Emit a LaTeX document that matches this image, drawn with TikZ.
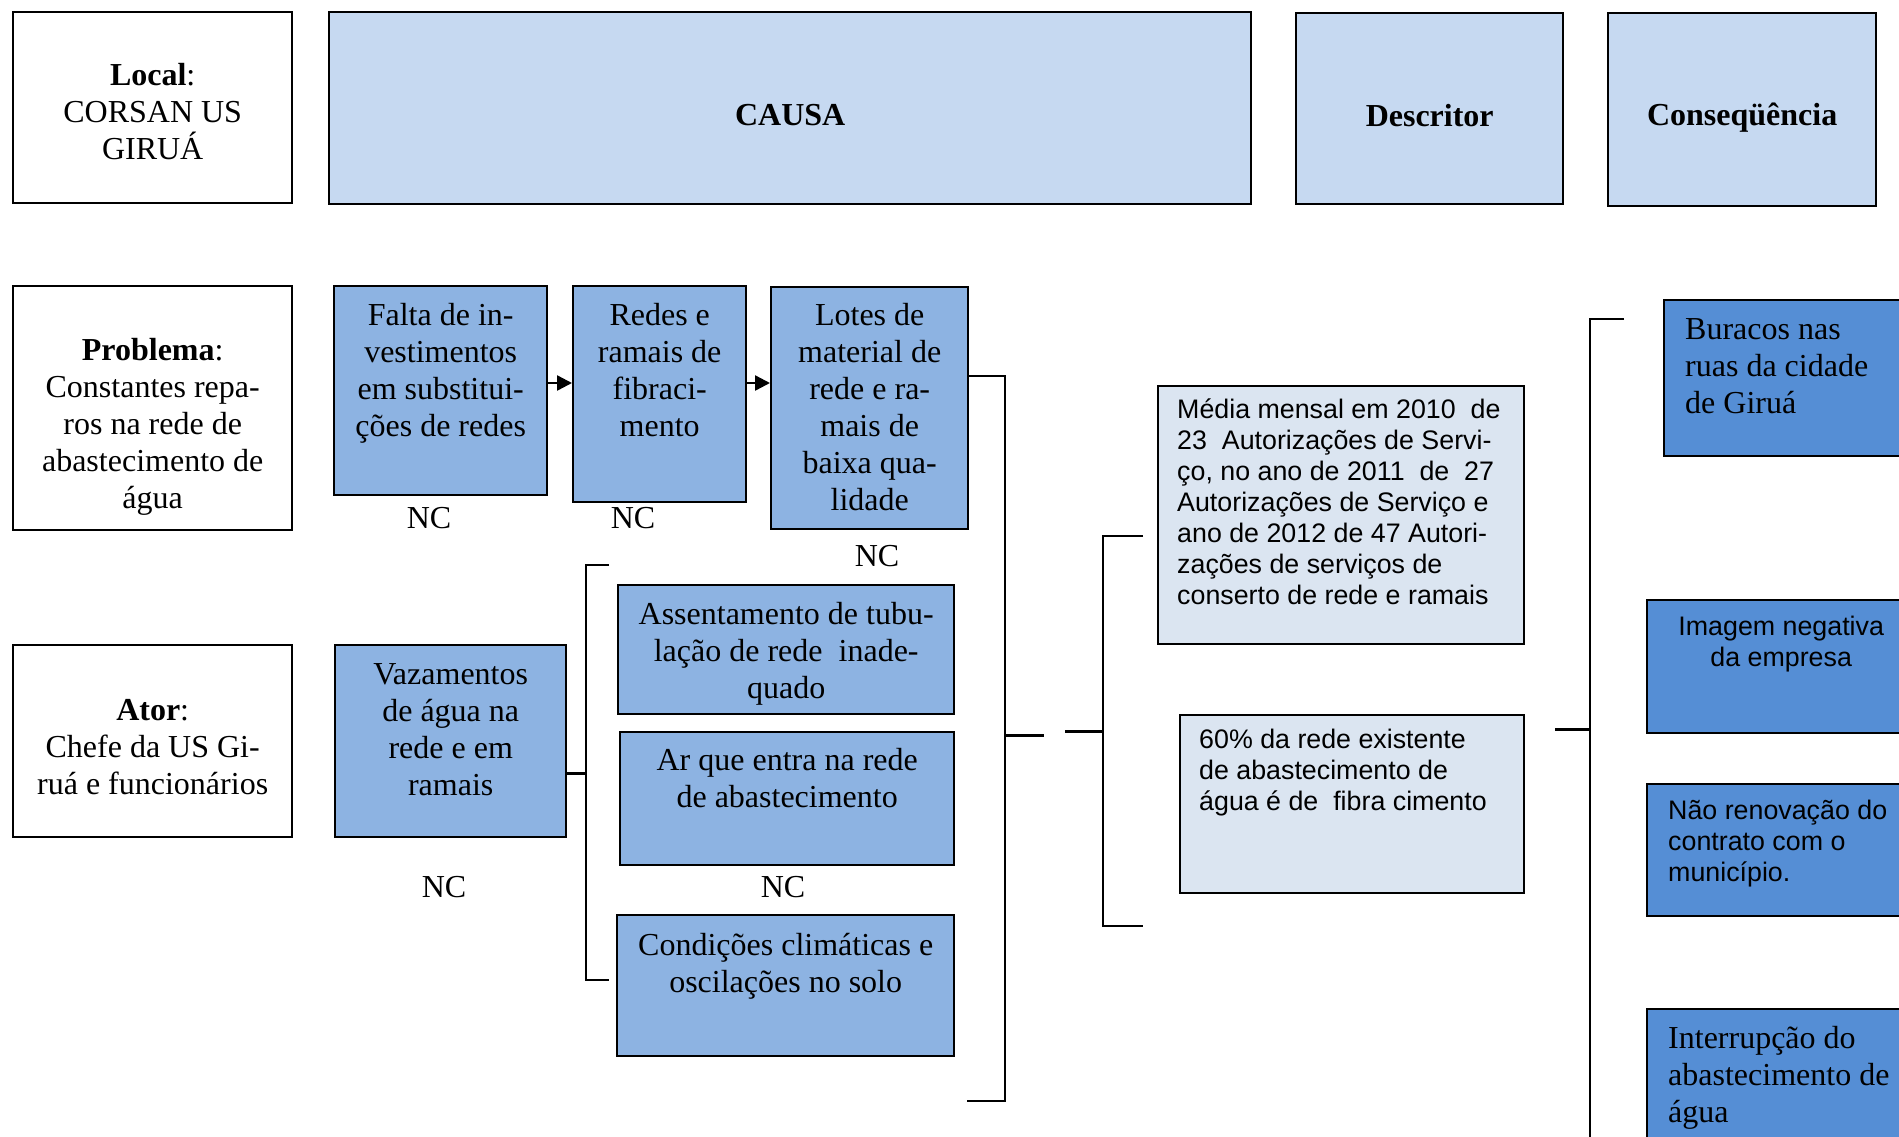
\documentclass[tikz,border=0pt]{standalone}
\usepackage{fontspec}
\setmainfont{Liberation Serif}
\setsansfont{Liberation Sans}
\usetikzlibrary{arrows.meta,positioning}
\definecolor{headblue}{HTML}{C6D9F1}
\definecolor{causeblue}{HTML}{8DB3E2}
\definecolor{descblue}{HTML}{DBE5F1}
\definecolor{consblue}{HTML}{558ED5}
\tikzset{
  box/.style={
    rectangle,
    draw=black,
    line width=2.4pt,
    inner sep=0pt,
    anchor=north west
  },
  plainbox/.style={box, fill=white},
  headbox/.style={box, fill=headblue},
  causebox/.style={box, fill=causeblue},
  descbox/.style={box, fill=descblue},
  consbox/.style={box, fill=consblue},
  txt/.style={
    inner sep=0pt,
    align=center,
    font=\fontsize{32}{37}\selectfont
  },
  sanstxt/.style={
    inner sep=0pt,
    align=left,
    font=\sffamily\fontsize{26.8}{31}\selectfont
  },
  bracket/.style={line width=2.2pt},
  stub/.style={line width=3pt},
  arrow/.style={
    -{Triangle[length=15pt,width=15pt]},
    line width=2.4pt
  }
}

\begin{document}
\begin{tikzpicture}[x=1pt, y=-1pt]
\path[use as bounding box] (0,0) rectangle (1899,1136);
\clip (0,0) rectangle (1899,1136);

% cabecalho
\node[plainbox, minimum width=279pt, minimum height=191pt] (local) at (12,11) {};
\node[headbox, minimum width=922pt, minimum height=192pt] (causa) at (328,11) {};
\node[headbox, minimum width=267pt, minimum height=191pt] (descr) at (1295,12) {};
\node[headbox, minimum width=268pt, minimum height=193pt] (conseq) at (1607,12) {};
\node[txt, below=52pt of local.north] (localT) {\textbf{Local}:\\CORSAN US\\GIRUÁ};
\node[txt, below=93pt of causa.north] (causaT) {\textbf{CAUSA}};
\node[txt, below=92pt of descr.north] (descrT) {\textbf{Descritor}};
\node[txt, below=91pt of conseq.north] (conseqT) {\textbf{Conseqüência}};

% problema e causas
\node[plainbox, minimum width=279pt, minimum height=244pt] (problema) at (12,285) {};
\node[causebox, minimum width=213pt, minimum height=209pt] (falta) at (333,285) {};
\node[causebox, minimum width=173pt, minimum height=216pt] (redes) at (572,285) {};
\node[causebox, minimum width=197pt, minimum height=242pt] (lotes) at (770,286) {};
\node[txt, below=53pt of problema.north] (problemaT) {\textbf{Problema}:\\Constantes repa-\\ros na rede de\\abastecimento de\\água};
\node[txt, below=18pt of falta.north] (faltaT) {Falta de in-\\vestimentos\\em substitui-\\ções de redes};
\node[txt, below=18pt of redes.north] (redesT) {Redes e\\ramais de\\fibraci-\\mento};
\node[txt, below=17pt of lotes.north] (lotesT) {Lotes de\\material de\\rede e ra-\\mais de\\baixa qua-\\lidade};

\node[plainbox, minimum width=279pt, minimum height=192pt] (ator) at (12,644) {};
\node[causebox, minimum width=231pt, minimum height=192pt] (vaz) at (334,644) {};
\node[causebox, minimum width=336pt, minimum height=129pt] (assent) at (617,584) {};
\node[causebox, minimum width=334pt, minimum height=133pt] (ar) at (619,731) {};
\node[causebox, minimum width=337pt, minimum height=141pt] (cond) at (616,914) {};
\node[txt, below=55pt of ator.north] (atorT) {\textbf{Ator}:\\Chefe da US Gi-\\ruá e funcionários};
\node[txt, below=19pt of vaz.north] (vazT) {Vazamentos\\de água na\\rede e em\\ramais};
\node[txt, below=18pt of assent.north] (assentT) {Assentamento de tubu-\\lação de rede~~inade-\\quado};
\node[txt, below=17pt of ar.north] (arT) {Ar que entra na rede\\de abastecimento};
\node[txt, below=19pt of cond.north] (condT) {Condições climáticas e\\oscilações no solo};

\node[txt, anchor=base] (nc1) at (429,528) {NC};
\node[txt, anchor=base] (nc2) at (633,528) {NC};
\node[txt, anchor=base] (nc3) at (877,566) {NC};
\node[txt, anchor=base] (nc4) at (444,897) {NC};
\node[txt, anchor=base] (nc5) at (783,897) {NC};

% descritor
\node[descbox, minimum width=366pt, minimum height=258pt] (media) at (1157,385) {};
\node[descbox, minimum width=344pt, minimum height=178pt] (fibra) at (1179,714) {};
\node[sanstxt, below right=14pt and 20pt of media.north west] (mediaT) {Média mensal em 2010~~de\\23~~Autorizações de Servi-\\ço, no ano de 2011~~de~~27\\Autorizações de Serviço e\\ano de 2012 de 47 Autori-\\zações de serviços de\\conserto de rede e ramais};
\node[sanstxt, below right=15pt and 20pt of fibra.north west] (fibraT) {60\% da rede existente\\de abastecimento de\\água é de~~fibra cimento};

% consequencias
\node[consbox, minimum width=268pt, minimum height=156pt] (burac) at (1663,299) {};
\node[consbox, minimum width=268pt, minimum height=133pt] (imagem) at (1646,599) {};
\node[consbox, minimum width=268pt, minimum height=132pt] (renov) at (1646,783) {};
\node[consbox, minimum width=268pt, minimum height=160pt] (interr) at (1646,1008) {};
\node[txt, align=left, below right=19pt and 22pt of burac.north west] (buracT) {Buracos nas\\ruas da cidade\\de Giruá};
\node[sanstxt, align=center, below=17pt of imagem.north] (imagemT) {Imagem negativa\\da empresa};
\node[sanstxt, below right=16.5pt and 22pt of renov.north west] (renovT) {Não renovação do\\contrato com o\\município.};
\node[txt, align=left, below right=18pt and 22pt of interr.north west] (interrT) {Interrupção do\\abastecimento de\\água};

% setas
\coordinate (arrowrow) at (0,383);
\draw[arrow] (falta.east |- arrowrow) -- (redes.west |- arrowrow);
\draw[arrow] (redes.east |- arrowrow) -- (lotes.west |- arrowrow);

% chaves
\coordinate (vtop) at (586,565);
\coordinate (vbot) at (586,980);
\coordinate (vmid) at (586,773);
\draw[bracket] (609,565) -- (vtop) -- (vbot) -- (609,980);
\draw[stub] (vaz.east |- vmid) -- (vmid);

\coordinate (ctop) at (1005,376);
\coordinate (cbot) at (1005,1101);
\coordinate (cmid) at (1005,735);
\draw[bracket] (lotes.east |- ctop) -- (ctop) -- (cbot) -- (967,1101);
\draw[stub] (cmid) -- (1044,735);

\coordinate (dtop) at (1103,536);
\coordinate (dbot) at (1103,926);
\coordinate (dmid) at (1103,731);
\draw[bracket] (1143,536) -- (dtop) -- (dbot) -- (1143,926);
\draw[stub] (1065,731) -- (dmid);

\coordinate (etop) at (1590,319);
\coordinate (ebot) at (1590,1150);
\coordinate (emid) at (1590,729);
\draw[bracket] (1624,319) -- (etop) -- (ebot);
\draw[stub] (1555,729) -- (emid);
\end{tikzpicture}
\end{document}
